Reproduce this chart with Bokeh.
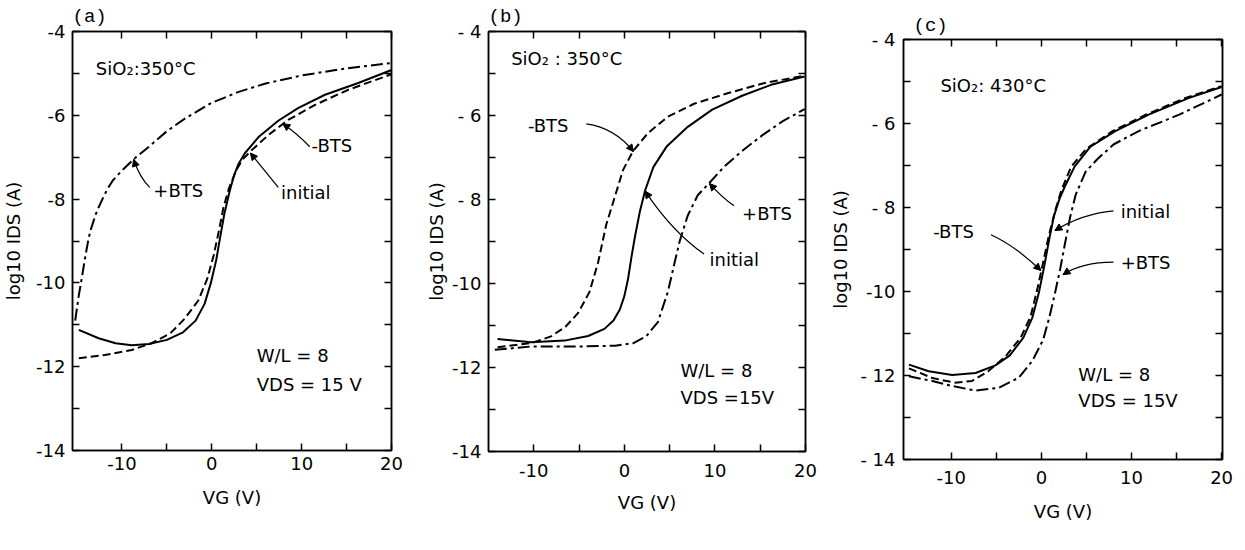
from bokeh.plotting import figure
from bokeh.layouts import row, column
from bokeh.models import FixedTicker, LinearAxis, Range1d, Label, Arrow, NormalHead, Spacer
from bokeh.embed import file_html
from bokeh.resources import INLINE

# ---------------- data (VG in V, log10 IDS in A) ----------------
# panel (a)  SiO2 : 350 C
a_init_v = [-14.8, -12.6, -10.7, -8.9, -7.0, -5.0, -3.2, -1.8, -0.8, -0.1, 0.5, 0.9, 1.4, 2.0, 2.5, 3.0, 3.7, 4.5, 5.2, 7.4, 9.6, 12.6, 16.3, 20.0]
a_init_y = [-11.12, -11.32, -11.44, -11.49, -11.46, -11.36, -11.18, -10.9, -10.5, -10.0, -9.45, -8.95, -8.35, -7.8, -7.42, -7.15, -6.9, -6.7, -6.52, -6.13, -5.83, -5.51, -5.23, -4.92]
a_minus_v = [-14.8, -11.9, -8.9, -6.7, -4.6, -3.0, -1.5, -0.5, 0.2, 0.8, 1.3, 1.9, 2.7, 3.4, 4.4, 6.3, 8.5, 11.5, 15.2, 20.0]
a_minus_y = [-11.80, -11.72, -11.60, -11.44, -11.2, -10.85, -10.42, -9.9, -9.35, -8.75, -8.2, -7.75, -7.32, -7.06, -6.84, -6.47, -6.11, -5.75, -5.39, -5.02]
a_plus_v = [-15.2, -14.8, -14.4, -14.1, -13.7, -13.45, -13.2, -12.9, -12.6, -12.0, -11.5, -11.0, -10.0, -8.7, -7.0, -5.0, -3.0, 0.0, 3.0, 6.0, 10.0, 15.0, 20.0]
a_plus_y = [-10.9, -10.3, -9.8, -9.4, -8.93, -8.72, -8.55, -8.36, -8.2, -7.92, -7.72, -7.55, -7.32, -7.05, -6.75, -6.38, -6.08, -5.7, -5.44, -5.24, -5.05, -4.88, -4.75]

# panel (b)  SiO2 : 350 C
b_init_v = [-14.0, -10.3, -6.6, -4.0, -2.2, -1.2, -0.5, 0.0, 0.4, 0.8, 1.2, 1.7, 2.3, 3.2, 4.7, 7.0, 9.7, 13.0, 16.2, 19.9]
b_init_y = [-11.32, -11.40, -11.36, -11.25, -11.08, -10.88, -10.62, -10.3, -9.9, -9.35, -8.85, -8.3, -7.78, -7.23, -6.73, -6.27, -5.86, -5.53, -5.27, -5.07]
b_minus_v = [-14.0, -10.3, -8.1, -6.5, -5.1, -3.85, -2.9, -2.0, -1.0, -0.15, 0.95, 2.6, 4.8, 7.7, 11.4, 15.4, 19.9]
b_minus_y = [-11.52, -11.42, -11.26, -11.03, -10.70, -10.2, -9.5, -8.6, -7.9, -7.3, -6.85, -6.42, -6.03, -5.72, -5.47, -5.23, -5.05]
b_plus_v = [-14.3, -10.3, -4.8, -1.0, 1.0, 2.4, 3.7, 4.8, 5.5, 6.1, 7.0, 8.1, 9.4, 11.1, 13.2, 15.3, 17.6, 19.9]
b_plus_y = [-11.58, -11.50, -11.50, -11.48, -11.42, -11.26, -10.92, -10.2, -9.55, -9.0, -8.38, -7.9, -7.6, -7.2, -6.81, -6.46, -6.12, -5.85]

# panel (c)  SiO2 : 430 C
c_init_v = [-14.7, -12.5, -9.9, -7.3, -5.1, -3.5, -2.0, -1.0, -0.3, 0.3, 0.9, 1.4, 2.0, 2.6, 3.7, 5.4, 8.2, 11.9, 16.4, 20.0]
c_init_y = [-11.74, -11.90, -11.99, -11.94, -11.76, -11.52, -11.1, -10.62, -10.05, -9.42, -8.72, -8.2, -7.8, -7.5, -7.02, -6.56, -6.18, -5.79, -5.39, -5.13]
c_minus_v = [-14.7, -12.1, -9.6, -7.7, -5.9, -4.0, -2.3, -1.2, -0.4, 0.2, 0.8, 1.5, 2.2, 3.3, 5.0, 7.9, 11.6, 16.0, 20.0]
c_minus_y = [-11.83, -12.06, -12.17, -12.13, -11.90, -11.55, -11.1, -10.6, -9.9, -9.3, -8.7, -8.1, -7.6, -7.03, -6.6, -6.18, -5.79, -5.39, -5.11]
c_plus_v = [-14.7, -12.1, -9.9, -7.3, -4.7, -2.5, -1.0, 0.2, 0.9, 1.5, 2.1, 2.6, 3.2, 3.8, 4.9, 6.2, 8.0, 10.8, 15.3, 20.0]
c_plus_y = [-12.02, -12.13, -12.25, -12.36, -12.29, -12.05, -11.65, -11.15, -10.6, -10.05, -9.45, -8.88, -8.22, -7.7, -7.15, -6.85, -6.5, -6.18, -5.79, -5.31]

# ticks
y_major = [-4, -6, -8, -10, -12, -14]
y_minor = [-5, -7, -9, -11, -13]
x_major = [-10, 0, 10, 20]
x_minor = [-5, 5, 15]
x_labels = ["-10", "0", "10", "20"]
a_ylabels = ["-4", "-6", "-8", "-10", "-12", "-14"]
b_ylabels = ["- 4", "- 6", "- 8", "-10", "-12", "-14"]
c_ylabels = ["- 4", "- 6", "- 8", "-10", "- 12", "- 14"]

FONT = "DejaVu Sans"
FS = "18px"
SOLID, DASH, DASHDOT = "solid", "8 4", "12 4 3 4"


def style_axis(ax, major, minor, labels, show):
    ax.ticker = FixedTicker(ticks=major, minor_ticks=minor)
    ax.major_tick_in = 7
    ax.major_tick_out = 0
    ax.minor_tick_in = 7
    ax.minor_tick_out = 0
    ax.major_tick_line_width = 1.5
    ax.minor_tick_line_width = 1.5
    ax.axis_line_width = 1.5
    ax.axis_line_color = "black"
    ax.major_tick_line_color = "black"
    ax.minor_tick_line_color = "black"
    if show:
        ax.major_label_overrides = {t: s for t, s in zip(major, labels)}
        ax.major_label_text_font = FONT
        ax.major_label_text_font_size = FS
        ax.major_label_text_color = "black"
    else:
        ax.major_label_overrides = {t: "" for t in major}
        ax.major_label_text_font_size = "0px"
        ax.major_label_standoff = 0


def panel(tag, xr, fw, fh, bl, br, title_stand, ylabels, y_stand, ylab_stand, x_stand, xlab_stand, title_off, curves, texts, leaders):
    p = figure(frame_width=fw, frame_height=fh, x_range=Range1d(*xr), y_range=Range1d(-14, -4),
               output_backend="svg", toolbar_location=None,
               min_border_left=bl, min_border_right=br, min_border_top=10,
               min_border_bottom=60)
    p.background_fill_color = "white"
    p.border_fill_color = "white"
    p.outline_line_color = "black"
    p.outline_line_width = 1.5
    p.grid.visible = False

    p.title.text = tag
    p.title.text_font = "Liberation Mono"
    p.title.text_font_size = "19px"
    p.title.text_font_style = "normal"
    p.title.text_color = "black"
    p.title.align = "left"
    p.title.offset = title_off
    p.title.standoff = title_stand

    xa, ya = p.xaxis[0], p.yaxis[0]
    style_axis(xa, x_major, x_minor, x_labels, True)
    style_axis(ya, y_major, y_minor, ylabels, True)
    ya.major_label_standoff = y_stand
    xa.major_label_standoff = x_stand
    ya.axis_label = "log10 IDS (A)"
    xa.axis_label = "VG (V)"
    for ax, st in ((ya, ylab_stand), (xa, xlab_stand)):
        ax.axis_label_text_font = FONT
        ax.axis_label_text_font_size = FS
        ax.axis_label_text_font_style = "normal"
        ax.axis_label_text_color = "black"
        ax.axis_label_standoff = st

    top = LinearAxis()
    style_axis(top, x_major, x_minor, x_labels, False)
    p.add_layout(top, "above")
    right = LinearAxis()
    style_axis(right, y_major, y_minor, ylabels, False)
    p.add_layout(right, "right")

    for xs, ys, dash in curves:
        p.line(xs, ys, line_color="black", line_width=2, line_dash=dash, line_join="round")

    for txt, x, y in texts:
        p.add_layout(Label(x=x, y=y, text=txt, text_font=FONT, text_font_size=FS,
                           text_color="black", text_baseline="middle", text_align="left"))

    for (x0, y0), (cx, cy), (x1, y1) in leaders:
        p.quadratic(x0=[x0], y0=[y0], x1=[x1], y1=[y1], cx=[cx], cy=[cy],
                    line_color="black", line_width=1.2)
        p.add_layout(Arrow(end=NormalHead(size=7, fill_color="black", line_color="black", line_width=1),
                           x_start=cx, y_start=cy, x_end=x1, y_end=y1, line_alpha=0))
    return p


pa = panel("(a)", (-15.5, 20), 319, 419, 66, 15, 7, a_ylabels, 7, 9, 6, 14, 0,
           [(a_init_v, a_init_y, SOLID), (a_minus_v, a_minus_y, DASH), (a_plus_v, a_plus_y, DASHDOT)],
           [("SiO₂:350°C", -12.9, -4.88), ("+BTS", -6.5, -7.8), ("-BTS", 11.1, -6.72),
            ("initial", 7.7, -7.84), ("W/L = 8", 5.0, -11.73), ("VDS = 15 V", 5.0, -12.43)],
           [((-6.9, -7.72), (-8.0, -7.5), (-8.7, -7.05)),
            ((10.9, -6.75), (9.6, -6.45), (7.9, -6.2)),
            ((7.4, -7.72), (6.0, -7.35), (4.3, -6.9))])

pb = panel("(b)", (-15, 20), 317, 420, 82, 21, 7, b_ylabels, 7, 2, 12, 12, 0,
           [(b_init_v, b_init_y, SOLID), (b_minus_v, b_minus_y, DASH), (b_plus_v, b_plus_y, DASHDOT)],
           [("SiO₂ : 350°C", -12.5, -4.64), ("-BTS", -10.65, -6.24), ("+BTS", 13.0, -8.33),
            ("initial", 9.4, -9.43), ("W/L = 8", 6.2, -12.07), ("VDS =15V", 6.2, -12.71)],
           [((-4.2, -6.2), (-1.0, -6.3), (1.0, -6.86)),
            ((12.1, -8.15), (10.8, -7.95), (9.4, -7.62)),
            ((8.8, -9.3), (5.2, -8.75), (2.3, -7.8))])

pc = panel("(c)", (-15.3, 20.1), 319, 420, 77, 13, 5, c_ylabels, 8, 6, 11, 14, 10,
           [(c_init_v, c_init_y, SOLID), (c_minus_v, c_minus_y, DASH), (c_plus_v, c_plus_y, DASHDOT)],
           [("SiO₂: 430°C", -11.2, -5.1), ("initial", 8.8, -8.1), ("+BTS", 8.8, -9.32),
            ("-BTS", -12.0, -8.56), ("W/L = 8", 4.1, -11.98), ("VDS = 15V", 4.1, -12.6)],
           [((8.0, -8.08), (4.5, -8.15), (1.5, -8.55)),
            ((8.0, -9.3), (4.5, -9.3), (2.4, -9.6)),
            ((-5.6, -8.65), (-3.0, -8.9), (-0.05, -9.5))])

layout = row(pa, pb, column(Spacer(width=10, height=10), pc))
open("out.html", "w").write(file_html(layout, INLINE))
